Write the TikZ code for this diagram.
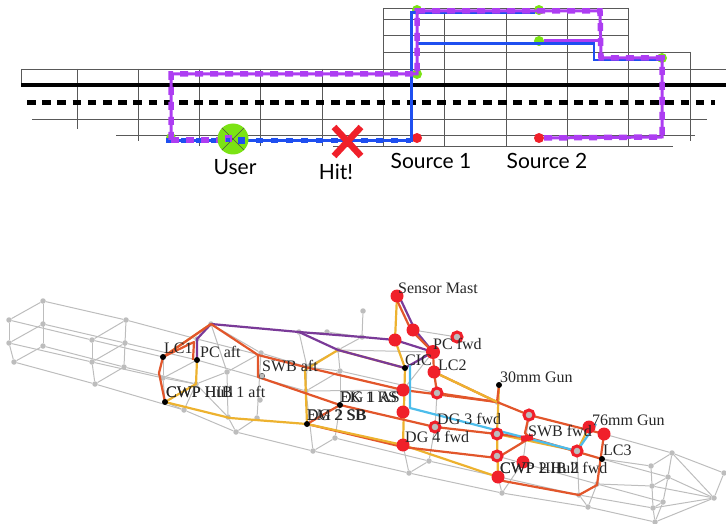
\documentclass[tikz,border=0pt]{standalone}
\usepackage{fontspec}
\usepackage{xcolor}
\setmainfont{Liberation Serif}
\newfontfamily\labelsans{Lato}
\usetikzlibrary{arrows.meta,positioning,calc}
\definecolor{routeblue}{HTML}{1F4FF0}
\definecolor{routepurple}{HTML}{AD3DF2}
\definecolor{spotgreen}{HTML}{7BE314}
\definecolor{hitred}{HTML}{F0202A}
\definecolor{pipepurple}{HTML}{7A3A98}
\definecolor{piperust}{HTML}{E2562B}
\definecolor{pipegold}{HTML}{EDB22F}
\definecolor{pipecyan}{HTML}{4DBDEB}
\definecolor{wiregray}{HTML}{BDBDBD}

\begin{document}
\begin{tikzpicture}[
  x=1pt,y=-1pt,
  font=\fontsize{16}{18}\selectfont,
  gridline/.style={draw=black!65,line width=0.8pt},
  bluesolid/.style={draw=routeblue,line width=3pt},
  bluethin/.style={draw=routeblue,line width=2.2pt},
  bluedash/.style={draw=routeblue,line width=5pt,dash pattern=on 7pt off 8pt},
  purplesolid/.style={draw=routepurple,line width=3pt},
  purpledash/.style={draw=routepurple,line width=5.5pt,dash pattern=on 8pt off 7pt},
  spot/.style={circle,fill=spotgreen,inner sep=0pt,minimum size=10pt},
  source/.style={circle,fill=hitred,inner sep=0pt,minimum size=10pt},
  maplabel/.style={font=\labelsans\fontsize{21}{23}\selectfont,inner sep=0pt},
  wire/.style={circle,fill=wiregray,inner sep=0pt,minimum size=5.5pt},
  wireline/.style={draw=wiregray,line width=1pt},
  pipe/.style={line width=2.2pt,line join=round},
  redspot/.style={circle,fill=hitred,inner sep=0pt,minimum size=13pt},
  redring/.style={circle,draw=hitred,line width=3pt,fill=wiregray,minimum size=10pt,inner sep=0pt},
  blackspot/.style={circle,fill=black,inner sep=0pt,minimum size=6pt},
  shiplabel/.style={anchor=base west,inner sep=0pt,text=black!85}
]
\useasboundingbox (0,0) rectangle (726,524);

% street map
\foreach \yy/\xa/\xb in {8/383/628,19/383/628,35/383/628,52/383/690,69/21/726,119/32/707,135/116/695,146.5/333/673}
  \draw[gridline] (\xa,\yy) -- (\xb,\yy);
\foreach \xx/\ya/\yb in {21/69/85,77/69/129,138/69/141,199/69/146,260/69/146,322/69/146,383/8/146,444/13/146,506/8/146,567/8/146,628/8/146,690/52/141}
  \draw[gridline] (\xx,\ya) -- (\xx,\yb);
\draw[line width=4pt] (21,85.5) -- (726,85.5);
\draw[line width=5pt,dash pattern=on 8.5pt off 6.7pt] (27,102.5) -- (715,102.5);

\coordinate (cornerA) at (171,140);
\coordinate (cornerB) at (171,74);
\coordinate (cornerC) at (417,74);
\coordinate (cornerD) at (417,11);
\coordinate (cornerE) at (600,11);
\coordinate (cornerF) at (601,58);
\coordinate (cornerG) at (662,58);
\coordinate (cornerH) at (662,137);
\coordinate (blueA) at (166,141);
\coordinate (blueB) at (411,141);
\coordinate (blueC) at (411,13);
\coordinate (blueD) at (535,13);
\coordinate (blueE) at (417,43.5);
\coordinate (blueF) at (594,43.5);
\coordinate (blueG) at (594,60);
\coordinate (blueH) at (661,60);
\coordinate (purpleA) at (600,41);
\coordinate (purpleB) at (228,140);

\node[spot] (turnA) at (171,138) {};
\node[spot] (turnB) at (417,74) {};
\node[spot] (turnC) at (417,10) {};
\node[spot] (turnD) at (539,10) {};
\node[spot] (turnE) at (539,41) {};
\node[spot] (turnF) at (662,58) {};
\node[source] (sourceA) at (417,138) {};
\node[source] (sourceB) at (539,138) {};

\draw[bluesolid] (blueA) -- (blueB) -- (blueC) -- (blueD);
\draw[bluethin] (blueE) -- (blueF) -- (blueG) -- (blueH);
\draw[bluedash] (blueA) -- (blueB);
\draw[purplesolid] (cornerA) -- (cornerB) -- (cornerC) -- (cornerD) -- (cornerE) -- (cornerF) -- (cornerG) -- (cornerH) -- (sourceB);
\draw[purplesolid] (turnE) -- (purpleA);
\draw[purpledash] (cornerA) -- (cornerB) -- (cornerC) -- (cornerD) -- (cornerE) -- (cornerF) -- (cornerG) -- (cornerH) -- (sourceB);
\draw[purpledash] (cornerA) -- (purpleB);

\node[circle,fill=spotgreen,inner sep=0pt,minimum size=31pt] (user) at (233,139) {};
\draw[black!70,line width=0.7pt] (user.north west) -- (user.south east);
\draw[black!70,line width=0.7pt] (user.north east) -- (user.south west);
\node[rectangle,fill=routepurple,minimum size=7pt,inner sep=0pt] (userA) at (228,139) {};
\node[rectangle,fill=routeblue,minimum size=4pt,inner sep=0pt] (userB) at (228,140) {};
\node[rectangle,fill=routeblue,minimum size=7pt,inner sep=0pt] (userC) at (241,141) {};
\draw[hitred,line width=6.5pt] (334,127) -- (361,156);
\draw[hitred,line width=6.5pt] (361,127) -- (334,156);
\node[maplabel] (userlabel) at (235,167) {User};
\node[maplabel] (hitlabel) at (336,172) {Hit!};
\node[maplabel] (sourcelabelA) at (431,161) {Source 1};
\node[maplabel] (sourcelabelB) at (547,161) {Source 2};

% ship wireframe
\foreach \n/\xx/\yy in {
  a1/43/301,a2/9/320,a3/43/324,a4/9/343,a5/43/346,a6/14/362,
  b1/126/320,b2/92/340,b3/125/343,b4/92/362,b5/124/367,b6/95/384,
  c1/211/324,c2/197/339,c3/227/372,c4/163/378,c5/196/384,c6/184/410,c7/228/417,c8/236/432,
  d1/261/353,d2/260/400,d3/257/418,d4/299/332,d5/307/367,d6/306/391,d7/313/451,d8/327/332,
  e1/338/350,e2/340/371,e3/335/438,e4/362/337,e5/363/311,
  f1/409/473,f2/429/461,f4/457/337,f8/497/402,
  g3/502/493,g6/579/495,g7/588/507,g8/597/484,
  h1/672/453,h2/724/473,h3/651/466,h4/668/477,h5/652/486,h6/663/502,h7/653/508,h8/714/498,h9/655/522}
  \node[wire] (\n) at (\xx,\yy) {};
\coordinate (mast) at (397,296);
\coordinate (mastB) at (413,330);
\coordinate (mastC) at (395,340);
\coordinate (hubA) at (433,352);
\coordinate (hubB) at (434,372);
\coordinate (hubC) at (437,393);
\coordinate (hubD) at (403,390);
\coordinate (hubE) at (403,412);
\coordinate (hubF) at (403,445);
\coordinate (hubG) at (435,427);
\coordinate (pcfwd) at (457,337);
\coordinate (foreA) at (529,415);
\coordinate (foreB) at (497,434);
\coordinate (foreC) at (497,456);
\coordinate (foreD) at (498,477);
\coordinate (foreE) at (523,462);
\coordinate (foreF) at (577,451);
\coordinate (foreG) at (589,427);
\coordinate (foreH) at (604,434);
\coordinate (lcA) at (163,357);
\coordinate (pcaft) at (197,360);
\coordinate (cwpaft) at (165,402);
\coordinate (dgA) at (340,405);
\coordinate (dgB) at (307,424);
\coordinate (cic) at (405,368);
\coordinate (gun) at (499,385);
\coordinate (lcC) at (602,459);
\coordinate (swbaft) at (262,376);

\foreach \a/\b in {
  a1/a2,a1/a5,a2/a4,a4/a6,a3/a4,a5/a6,a1/b1,a2/b2,a3/b3,a4/b4,a5/b5,a6/b6,
  b1/b2,b1/b5,b2/b4,b3/b4,b4/b6,b5/b6,b1/c2,b2/lcA,b3/pcaft,b4/c4,b5/c5,b6/c6,
  lcA/c4,c4/cwpaft,cwpaft/c6,c1/c2,c2/pcaft,pcaft/c5,c5/c6,c4/pcaft,c4/c5,c1/c3,c3/c7,c7/c8,c6/c8,c8/d7,c2/d5,pcaft/d6,c5/c3,c5/c7,c3/d1,
  c1/d1,c1/d4,d1/d3,d3/c8,d1/d5,d4/d5,d5/d6,d6/d7,d4/d8,d8/e4,d5/e1,e1/e4,e4/e5,e1/e2,e2/dgA,dgA/e3,d7/e3,e3/f2,d6/e2,
  d5/e2,e2/hubC,d6/hubD,d7/f1,f1/g3,f1/f2,hubF/f1,f2/hubG,hubG/hubC,hubC/hubB,e1/hubA,hubD/hubA,mastB/f4,
  hubC/f8,f8/foreA,f8/foreB,
  foreD/g3,g3/g7,g7/h9,f2/g6,g6/h7,g6/g7,g7/g8,foreF/g6,foreE/g3,foreE/foreA,foreC/g8,
  foreH/h1,lcC/h3,lcC/h4,g8/h6,g8/h5,
  h1/h2,h1/h3,h3/h5,h5/h7,h7/h9,h1/h4,h4/h6,h6/h9,h4/h5,h6/h7,h1/h8,h4/h8,h5/h8,h7/h8,h9/h8,h2/h8}
  \draw[wireline] (\a) -- (\b);

\coordinate (bendA) at (194,342);
\coordinate (bendB) at (193,360);
\coordinate (bendC) at (258,355);
\coordinate (bendD) at (258,377);
\coordinate (bendE) at (579,495);
\coordinate (bendF) at (597,485);
\coordinate (bendG) at (525,433);
\coordinate (bendH) at (530,438);
\coordinate (bendI) at (305,370);
\coordinate (bendJ) at (338,350);
\coordinate (bendK) at (410,365);
\coordinate (bendL) at (410,408);
\coordinate (bendM) at (596,424);
\coordinate (bendN) at (230,418);
\coordinate (bendO) at (159,373);
\coordinate (bendP) at (305,367);
\coordinate (bendQ) at (403,447);
\coordinate (bendR) at (497,458);
\coordinate (bendS) at (498,480);

\draw[pipe,pipegold] (cwpaft) -- (c5.center) -- (pcaft);
\draw[pipe,pipegold] (cwpaft) -- (bendN) -- (dgB);
\draw[pipe,pipegold] (dgB) -- (bendI) -- (bendJ) -- (cic);
\draw[pipe,pipegold] (mast) -- (mastC) -- (cic) -- (hubF);
\draw[pipe,pipegold] (gun) -- (foreB) -- (foreD);
\draw[pipe,pipegold] (foreB) -- (foreF) -- (foreG);
\draw[pipe,pipegold] (c1.center) -- (lcA);
\draw[pipe,pipegold] (hubF) -- (foreD);
\draw[pipe,pipepurple] (c1.center) -- (d4.center) -- (e4.center) -- (mastC) -- (hubA);
\draw[pipe,pipepurple] (d4.center) -- (bendJ) -- (cic) -- (hubA);
\draw[pipe,pipepurple] ([xshift=2pt]mast) -- ([xshift=2pt]mastB) -- (hubA);
\draw[pipe,pipepurple] (c1.center) -- (c2.center) -- (pcaft);
\draw[pipe,piperust] (c1.center) -- (lcA) -- (bendO) -- (cwpaft);
\draw[pipe,piperust] (lcA) -- (bendA) -- (bendB);
\draw[pipe,piperust] (c1.center) -- (bendC) -- (bendP);
\draw[pipe,piperust] (bendC) -- (bendD) -- (dgA) -- (hubG) -- (foreB) -- (bendH) -- (lcC);
\draw[pipe,piperust] (bendP) -- (hubD) -- (f8.center);
\draw[pipe,piperust] (dgB) -- (dgA);
\draw[pipe,piperust] (dgB) -- (bendQ) -- (bendR) -- (bendH);
\draw[pipe,piperust] ([xshift=-2pt]mast) -- ([xshift=-2pt]mastB) -- (hubA) -- (hubB) -- (hubC);
\draw[pipe,piperust] (hubB) -- (f8.center) -- (foreA) -- (foreH) -- (bendF) -- (bendE) -- (bendS);
\draw[pipe,piperust] (hubC) -- (f8.center);
\draw[pipe,piperust] (gun) -- (f8.center);
\draw[pipe,piperust] (foreA) -- (bendG) -- (bendH);
\draw[pipe,pipegold,yshift=-1.5pt] (dgB) -- (hubF);
\draw[pipe,pipegold,yshift=-1.5pt] (hubB) -- (f8.center);
\draw[pipe,pipecyan] (bendK) -- (bendL) -- (foreF) -- (bendM);
\node[rectangle,fill=hitred,minimum width=12pt,minimum height=6pt,inner sep=0pt,rotate=8] (redbar) at (527,438) {};

\foreach \n in {mast,mastB,mastC,hubB,hubD,hubE,hubF,foreD,foreE,foreG,foreH}
  \node[redspot] (spot\n) at (\n) {};
\node[redspot,minimum size=14pt] (spothubA) at (hubA) {};
\foreach \n in {hubC,hubG,foreA,foreB,foreC,foreF,pcfwd}
  \node[redring] (ring\n) at (\n) {};
\foreach \n in {lcA,pcaft,cwpaft,dgA,dgB,cic,gun,lcC}
  \node[blackspot] (dot\n) at (\n) {};
\node[wire,draw=black!70] (swbdot) at (swbaft) {};

\node[shiplabel] (mastlabel) at (398,293) {Sensor Mast};
\node[shiplabel] (lclabelA) at (164,353) {LC1};
\node[shiplabel] (pcaftlabel) at (200,357) {PC aft};
\node[shiplabel] (cwplabelA) at (166,397) {CWP Hull};
\node[shiplabel] (cwplabelB) at (166,397) {CWP HIB 1 aft};
\node[shiplabel] (swbaftlabel) at (262,371) {SWB aft};
\node[shiplabel] (dglabelA) at (340,402) {DG 1 AS};
\node[shiplabel] (dglabelB) at (340,402) {EK 1 RS};
\node[shiplabel] (dglabelC) at (307,420) {DG 2 SB};
\node[shiplabel] (dglabelD) at (307,420) {EM 2 SB};
\node[shiplabel] (ciclabel) at (405,365) {CIC};
\node[shiplabel] (lclabelB) at (438,370) {LC2};
\node[shiplabel] (pcfwdlabel) at (433,349) {PC fwd};
\node[shiplabel] (gunlabelA) at (500,382) {30mm Gun};
\node[shiplabel] (dglabelE) at (437,424) {DG 3 fwd};
\node[shiplabel] (dglabelF) at (405,442) {DG 4 fwd};
\node[shiplabel] (swbfwdlabel) at (528,436) {SWB fwd};
\node[shiplabel] (gunlabelB) at (592,425) {76mm Gun};
\node[shiplabel] (lclabelC) at (603,455) {LC3};
\node[shiplabel] (cwplabelC) at (500,473) {CWP 2 Hull};
\node[shiplabel] (cwplabelD) at (500,473) {CWP HIB 2 fwd};
\end{tikzpicture}
\end{document}
